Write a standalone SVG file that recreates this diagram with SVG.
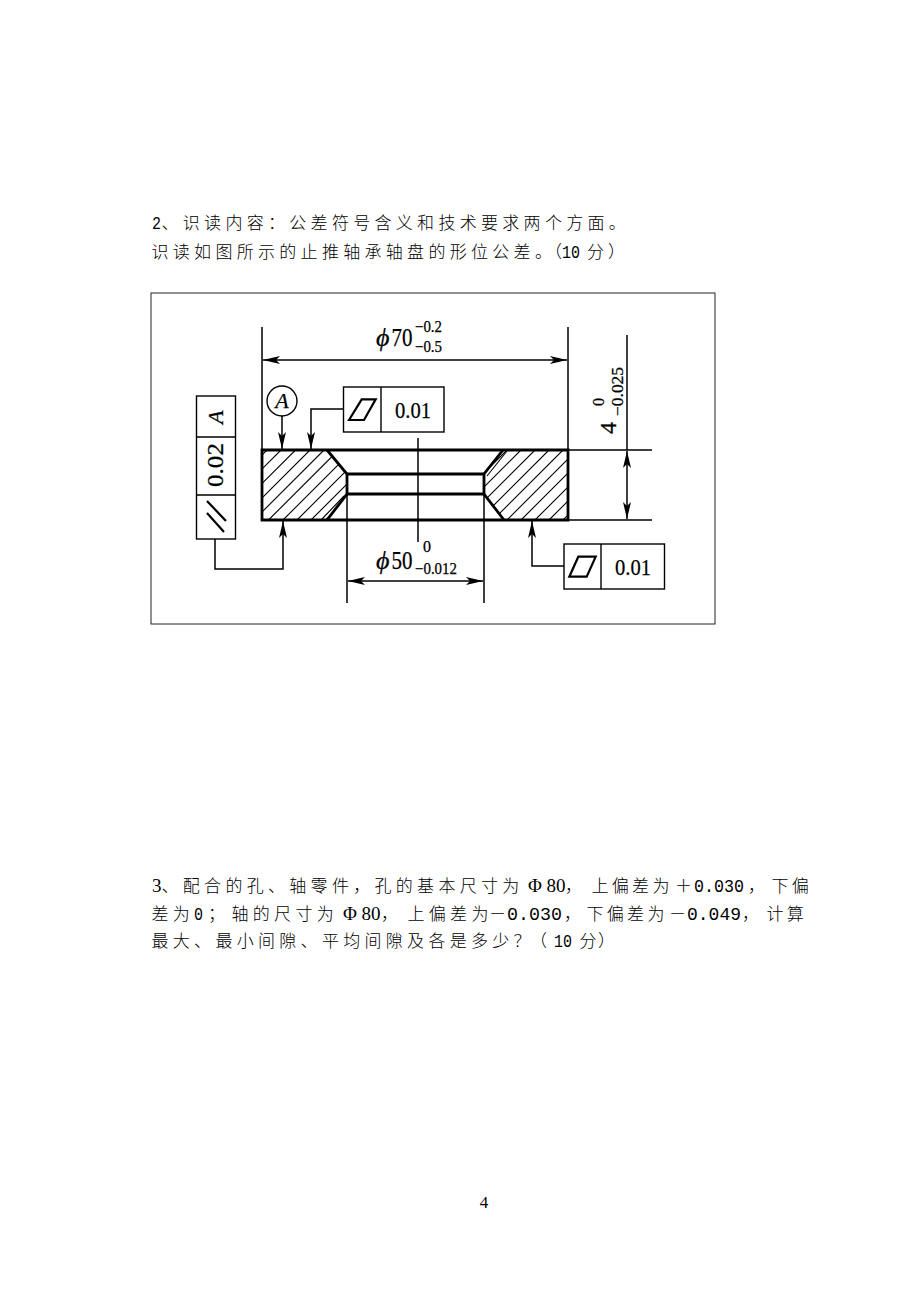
<svg xmlns="http://www.w3.org/2000/svg" width="920" height="1300" viewBox="0 0 920 1300">
<style>
.cn{font-family:"Liberation Serif","Noto Sans CJK SC",serif;font-size:17px;font-weight:300;fill:#000;letter-spacing:4.3px}
.t{letter-spacing:3.3px}
.m{font-family:"Liberation Mono",monospace;font-size:18px;font-weight:400;letter-spacing:0}
.r{font-family:"Liberation Serif",serif;font-size:19px;font-weight:400;letter-spacing:0}
.d{font-family:"Liberation Serif","Times New Roman",serif;fill:#000;stroke:#000;stroke-width:.25}
.i{font-style:italic}
.l{fill:none;stroke:#000;stroke-width:1.5}
.h{fill:none;stroke:#000;stroke-width:1.1}
.b{fill:none;stroke:#000;stroke-width:2.8}
.s{fill:none;stroke:#000;stroke-width:1.4}
</style>
<defs>
<marker id="ah" viewBox="0 0 17 8" refX="17" refY="4" markerWidth="17" markerHeight="8" markerUnits="userSpaceOnUse" orient="auto-start-reverse"><path d="M0 0L17 4L0 8L4 4Z" fill="#000"/></marker>
<clipPath id="cl"><path d="M262 450H327L347 474V494L327 520H262Z"/></clipPath>
<clipPath id="cr"><path d="M568 450H503L484 474V494L504 520H568Z"/></clipPath>
</defs>
<rect width="920" height="1300" fill="#fff"/>

<g id="question-2">
<text class="cn" y="229"><tspan class="m" x="152" textLength="9" lengthAdjust="spacingAndGlyphs">2</tspan><tspan x="161.500">、识读内容：公差符号含义和技术要求两个方面。</tspan></text>
<text class="cn" y="258"><tspan x="151.500">识读如图所示的止推轴承轴盘的形位公差。</tspan><tspan x="545">（</tspan><tspan class="m" x="562" textLength="18" lengthAdjust="spacingAndGlyphs">10</tspan><tspan x="587">分</tspan><tspan x="608">）</tspan></text>
</g>

<rect id="frame" x="151" y="293" width="564" height="331" fill="none" stroke="#222" stroke-width="1"/>

<g id="connectors">
<path class="l" d="M262 327V450M568 327V450"/>
<path class="l" d="M263 360H567" marker-start="url(#ah)" marker-end="url(#ah)"/>
<path class="l" d="M418 438V542"/>
<path class="l" d="M347 494V603M484 494V603"/>
<path class="l" d="M348 581H483" marker-start="url(#ah)" marker-end="url(#ah)"/>
<path class="l" d="M627 335V450M568 450H652M568 520H652"/>
<path class="l" d="M627 451V519" marker-start="url(#ah)" marker-end="url(#ah)"/>
<path class="l" d="M282 416V449" marker-end="url(#ah)"/>
<path class="l" d="M343 409H311V449" marker-end="url(#ah)"/>
<path class="l" d="M215 539V569H283V521" marker-end="url(#ah)"/>
<path class="l" d="M564 566H532V521" marker-end="url(#ah)"/>
</g>

<g id="part">
<g clip-path="url(#cl)"><path class="h" d="M267 450L197 520M281 450L211 520M295.500 450L225.500 520M310 450L240 520M324 450L254 520M338.500 450L268.500 520M353 450L283 520M367 450L297 520M381 450L311 520M395.500 450L325.500 520"/></g>
<g clip-path="url(#cr)"><path class="h" d="M507 450L437 520M521 450L451 520M535 450L465 520M549 450L479 520M563 450L493 520M577 450L507 520M591 450L521 520M605 450L535 520M619 450L549 520M633 450L563 520"/></g>
<path class="h" d="M322 519L344 496M487 476L507 451"/>
<path class="b" d="M262 450H568V520H262Z"/>
<path class="b" d="M327 450L347 474V494L327 520M503 450L484 474V494L504 520"/>
<path class="b" d="M347 474H484M347 494H484"/>
</g>

<g id="dim-70">
<text class="d i" x="376" y="346" font-size="26">ϕ</text>
<text class="d" x="391.500" y="346" font-size="25" textLength="21" lengthAdjust="spacingAndGlyphs">70</text>
<text class="d" x="415" y="332" font-size="16" textLength="27" lengthAdjust="spacingAndGlyphs">−0.2</text>
<text class="d" x="415" y="352" font-size="16" textLength="27" lengthAdjust="spacingAndGlyphs">−0.5</text>
</g>
<g id="dim-50">
<text class="d i" x="376" y="569" font-size="26">ϕ</text>
<text class="d" x="391.500" y="569" font-size="25" textLength="21" lengthAdjust="spacingAndGlyphs">50</text>
<text class="d" x="423" y="552" font-size="16">0</text>
<text class="d" x="415" y="574" font-size="16" textLength="42" lengthAdjust="spacingAndGlyphs">−0.012</text>
</g>
<g id="dim-4">
<text class="d" transform="translate(616 434) rotate(-90)" font-size="24">4</text>
<text class="d" transform="translate(604 406) rotate(-90)" font-size="16">0</text>
<text class="d" transform="translate(622.500 416) rotate(-90)" font-size="16" textLength="49" lengthAdjust="spacingAndGlyphs">−0.025</text>
</g>

<g id="datum-a">
<circle cx="282" cy="401" r="15" fill="#fff" stroke="#000" stroke-width="1.4"/>
<text class="d i" x="282" y="408" font-size="22" text-anchor="middle">A</text>
</g>

<g id="frame-top">
<rect class="s" x="343.500" y="387" width="100.500" height="45"/>
<path class="s" d="M381 387V432"/>
<path d="M349 420L361.700 399.300H375.700L364 420Z" fill="none" stroke="#000" stroke-width="2.2"/>
<text class="d" x="395" y="418" font-size="24" textLength="36" lengthAdjust="spacingAndGlyphs">0.01</text>
</g>

<g id="frame-left">
<rect class="s" x="196.500" y="396" width="39" height="143"/>
<path class="s" d="M196.500 437H235.500M196.500 495H235.500"/>
<text class="d i" transform="translate(223 424) rotate(-90)" font-size="22">A</text>
<text class="d" transform="translate(223 487) rotate(-90)" font-size="23" textLength="44" lengthAdjust="spacingAndGlyphs">0.02</text>
<path d="M207 501L226 521M207 513L224 532" fill="none" stroke="#000" stroke-width="2.2"/>
</g>

<g id="frame-right">
<rect class="s" x="564" y="544" width="100.500" height="45"/>
<path class="s" d="M601 544V589"/>
<path d="M569.300 576.700L578.300 556.700H595.700L586.700 576.700Z" fill="none" stroke="#000" stroke-width="2.2"/>
<text class="d" x="615" y="575" font-size="24" textLength="36" lengthAdjust="spacingAndGlyphs">0.01</text>
</g>

<g id="question-3">
<text class="cn" y="891.500"><tspan class="r" x="152">3</tspan><tspan x="161.500">、配合的孔、轴零件，孔的基本尺寸为</tspan><tspan class="r" x="528">Φ</tspan><tspan class="r" x="546.500">80</tspan><tspan x="565">，</tspan><tspan class="t" x="591.500">上偏差为</tspan><tspan x="675">＋</tspan><tspan class="m" x="694" textLength="50" lengthAdjust="spacingAndGlyphs">0.030</tspan><tspan x="748">，</tspan><tspan class="t" x="771.500">下偏</tspan></text>
<text class="cn" y="920"><tspan x="151.500">差为</tspan><tspan class="m" x="194" textLength="9" lengthAdjust="spacingAndGlyphs">0</tspan><tspan x="208">；</tspan><tspan x="231.500">轴的尺寸为</tspan><tspan class="r" x="343">Φ</tspan><tspan class="r" x="361.500">80</tspan><tspan x="381">，</tspan><tspan x="407.500">上偏差为</tspan><tspan x="489">－</tspan><tspan class="m" x="507" textLength="55" lengthAdjust="spacingAndGlyphs">0.030</tspan><tspan x="564">，</tspan><tspan class="t" x="586.500">下偏差为</tspan><tspan x="669">－</tspan><tspan class="m" x="687" textLength="54" lengthAdjust="spacingAndGlyphs">0.049</tspan><tspan x="742">，</tspan><tspan class="t" x="766.500">计算</tspan></text>
<text class="cn" y="947"><tspan x="151.500">最大、最小间隙、平均间隙及各是多少？</tspan><tspan x="530">（</tspan><tspan class="m" x="554" textLength="18" lengthAdjust="spacingAndGlyphs">10</tspan><tspan x="579.500">分</tspan><tspan x="598">）</tspan></text>
</g>

<text id="page-number" class="d" x="484" y="1208" font-size="17" text-anchor="middle" style="stroke-width:0">4</text>
</svg>
